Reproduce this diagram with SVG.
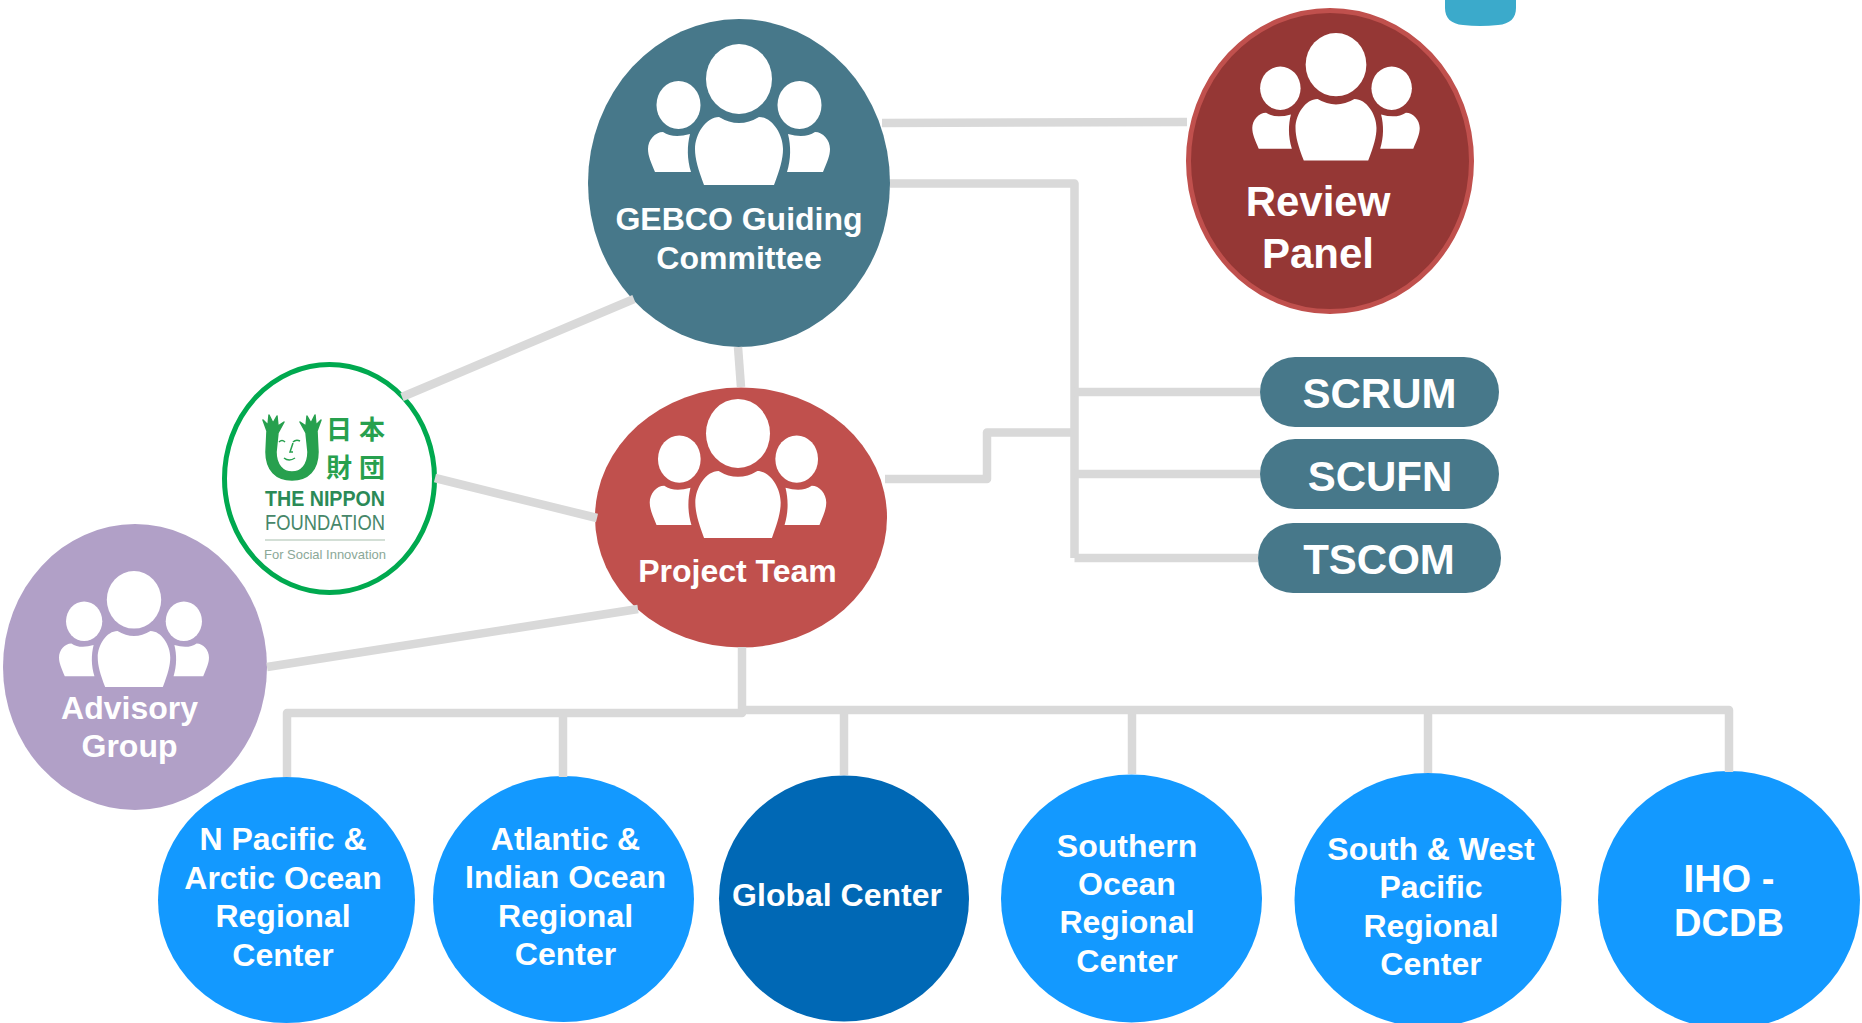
<svg xmlns="http://www.w3.org/2000/svg" width="1862" height="1023" viewBox="0 0 1862 1023">
<style>
text{font-family:"Liberation Sans",Arial,sans-serif;font-weight:700;fill:#fff;text-anchor:middle}
.f32{font-size:32px}.f38{font-size:38px}.f42{font-size:42px}
.teal{fill:#47788a}.blue{fill:#1399ff}
#connectors path{fill:none;stroke:#d9d9d9;stroke-width:8.5;stroke-linejoin:round}
</style>
<defs>
<g id="people" fill="#fff">
<ellipse cx="0" cy="35" rx="33" ry="35"/>
<ellipse cx="-60.5" cy="61" rx="22" ry="24"/>
<ellipse cx="60.5" cy="61" rx="22" ry="24"/>
<path d="M-35 141C-41 125-44 115-44 105C-44 90-33 73-20 73Q0 85 20 73C33 73 44 90 44 105C44 115 41 125 35 141Z"/>
<path d="M-84 128C-88 118-91 112-91 105C-91 96-84 88-76 88Q-66 95-49 90C-52 102-52 115-48 128Z"/>
<path d="M84 128C88 118 91 112 91 105C91 96 84 88 76 88Q66 95 49 90C52 102 52 115 48 128Z"/>
</g>
</defs>
<rect width="1862" height="1023" fill="#fff"/>
<path id="teal-shape" d="M1445 0H1516V8C1516 18 1510 24 1498 25Q1480 27 1463 25C1451 24 1445 18 1445 8Z" fill="#3baacb"/>

<g id="gebco"><ellipse class="teal" cx="739" cy="183" rx="151" ry="164"/>
<use href="#people" transform="translate(739 44)"/>
<text class="f32" x="739" y="230">GEBCO Guiding</text><text class="f32" x="739" y="269">Committee</text></g>

<g id="review"><ellipse cx="1330" cy="161" rx="141.500" ry="150.500" fill="#953735" stroke="#c0504d" stroke-width="5"/>
<use href="#people" transform="translate(1336 33) scale(.92 .905)"/>
<text class="f42" x="1318" y="216">Review</text><text class="f42" x="1318" y="268">Panel</text></g>

<g id="project"><ellipse cx="741" cy="517.500" rx="146" ry="130" fill="#c0504d"/>
<use href="#people" transform="translate(738 399) scale(.97 .985)"/>
<text class="f32" x="737.500" y="582">Project Team</text></g>

<g id="nippon"><ellipse cx="329.500" cy="478.500" rx="105" ry="114" fill="#fff" stroke="#00a94f" stroke-width="5"/>
<path d="M292 480C276 480 266 470 266 452L267 431L263 420L268 425L269 415L273 423L277 416L278 426L284 422L278 433L276 452C276 465 283 472 292 472C301 472 308 465 308 452L306 433L300 422L306 426L307 416L311 423L315 415L316 425L321 420L317 431L318 452C318 470 308 480 292 480Z" fill="#27a04e" stroke="#27a04e" stroke-width="1.500" stroke-linejoin="round"/>
<path d="M279 442Q282 439 285 442M293 442Q296 439 300 441M293 443L290 452H293M284 458Q289 462 295 458" fill="none" stroke="#27a04e" stroke-width="1.500"/>
<text x="326" y="439" style="font-family:'Noto Sans CJK JP',sans-serif;font-size:26px;font-weight:700;letter-spacing:7px;fill:#27a04e;text-anchor:start">日本</text>
<text x="326" y="477" style="font-family:'Noto Sans CJK JP',sans-serif;font-size:26px;font-weight:700;letter-spacing:7px;fill:#27a04e;text-anchor:start">財団</text>
<text x="265" y="506" textLength="120" lengthAdjust="spacingAndGlyphs" style="font-size:22px;fill:#2b8a57;text-anchor:start">THE NIPPON</text>
<text x="265" y="530" textLength="120" lengthAdjust="spacingAndGlyphs" style="font-size:22px;font-weight:400;fill:#47876a;text-anchor:start">FOUNDATION</text>
<path d="M265 540H385" stroke="#c4d4c8" stroke-width="1.500"/>
<text x="264" y="559" textLength="122" lengthAdjust="spacingAndGlyphs" style="font-size:13px;font-weight:400;fill:#8ba898;text-anchor:start">For Social Innovation</text>
</g>

<g id="advisory"><ellipse cx="135" cy="667" rx="132" ry="143" fill="#b1a0c7"/>
<use href="#people" transform="translate(134 571) scale(.824 .823)"/>
<text class="f32" x="129.500" y="719">Advisory</text><text class="f32" x="129.500" y="757">Group</text></g>

<g id="scrum"><rect class="teal" x="1260" y="357" width="239" height="70" rx="35"/><text class="f42" x="1379.500" y="408">SCRUM</text></g>
<g id="scufn"><rect class="teal" x="1260" y="439" width="239" height="70" rx="35"/><text class="f42" x="1380" y="491">SCUFN</text></g>
<g id="tscom"><rect class="teal" x="1258" y="523" width="243" height="70" rx="35"/><text class="f42" x="1379" y="574">TSCOM</text></g>

<g id="npacific"><ellipse class="blue" cx="286.500" cy="900" rx="128.500" ry="123"/>
<text class="f32" x="283" y="850">N Pacific &amp;</text><text class="f32" x="283" y="889">Arctic Ocean</text><text class="f32" x="283" y="927">Regional</text><text class="f32" x="283" y="966">Center</text></g>
<g id="atlantic"><ellipse class="blue" cx="563.500" cy="899" rx="130.500" ry="123"/>
<text class="f32" x="565.500" y="850">Atlantic &amp;</text><text class="f32" x="565.500" y="888">Indian Ocean</text><text class="f32" x="565.500" y="927">Regional</text><text class="f32" x="565.500" y="965">Center</text></g>
<g id="global"><ellipse cx="844" cy="898.500" rx="125" ry="123" fill="#0068b5"/>
<text class="f32" x="837" y="906">Global Center</text></g>
<g id="southern"><ellipse class="blue" cx="1131.500" cy="898.500" rx="130.500" ry="124"/>
<text class="f32" x="1127" y="857">Southern</text><text class="f32" x="1127" y="895">Ocean</text><text class="f32" x="1127" y="933">Regional</text><text class="f32" x="1127" y="972">Center</text></g>
<g id="southwest"><ellipse class="blue" cx="1428" cy="900" rx="133.500" ry="127"/>
<text class="f32" x="1431" y="860">South &amp; West</text><text class="f32" x="1431" y="898">Pacific</text><text class="f32" x="1431" y="937">Regional</text><text class="f32" x="1431" y="975">Center</text></g>
<g id="iho"><ellipse class="blue" cx="1729" cy="900" rx="131" ry="129"/>
<text class="f38" x="1729" y="892">IHO -</text><text class="f38" x="1729" y="936">DCDB</text></g>

<g id="connectors">
<path d="M882 123L1187 122"/>
<path d="M890 183.500H1074.500V558"/>
<path d="M1074.500 392H1260M1074.500 474H1260M1074.500 558H1258"/>
<path d="M885 479H987V432.500H1074.500"/>
<path d="M738 347L741 387"/>
<path d="M402 397L634 299"/>
<path d="M435 478L597 518"/>
<path d="M267 667L638 609"/>
<path d="M742 647V712"/>
<path d="M287 777V713H742V710H1729V772"/>
<path d="M563 777V713M844 775V710M1132 774V710M1428 773V710"/>
</g>
</svg>
